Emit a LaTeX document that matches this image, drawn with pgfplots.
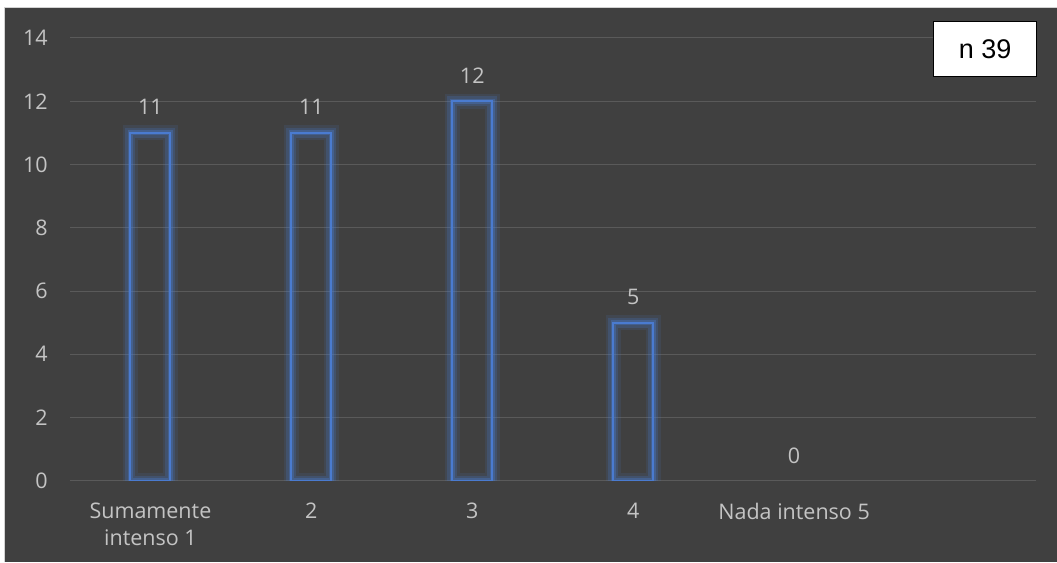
\documentclass[border=0pt]{standalone}
\usepackage{pgfplots}
\pgfplotsset{compat=1.18}
\usepackage{fontspec}
\setmainfont{Open Sans}
\newfontfamily\arialfont{Liberation Sans}
\definecolor{bg}{HTML}{404040}
\definecolor{txt}{HTML}{C4C4C4}
\definecolor{gridc}{HTML}{5A5A5A}
\definecolor{barblue}{HTML}{4A7BD0}
\begin{document}
\begin{tikzpicture}
\fill[white] (-70bp,-81bp) rectangle (987bp,481bp);
\fill[bg] (-65bp,-81bp) rectangle (987bp,473bp);
\draw[gray!35, line width=1bp] (-65bp,-81bp) -- (-65bp,473bp) -- (987bp,473bp);
\begin{axis}[
  scale only axis, width=966bp, height=443bp,
  xmin=-0.5, xmax=5.5, ymin=0, ymax=14,
  ytick={0,2,...,14}, xtick={0,...,4},
  xticklabels={{Sumamente\\intenso 1},2,3,4,Nada intenso 5},
  axis line style={draw=none}, major tick length=0pt,
  ymajorgrids, grid style={gridc, line width=1bp},
  tick label style={font=\fontsize{21.5bp}{27bp}\selectfont, text=txt},
  xticklabel style={align=center, anchor=north, inner sep=0pt, yshift=-22bp},
  yticklabel style={anchor=east, inner sep=0pt, xshift=-22bp},
  /pgf/number format/assume math mode=true,
  ybar, bar width=40bp, bar shift=0pt,
  every node near coord/.append style={font=\fontsize{21.5bp}{27bp}\selectfont, text=txt, anchor=south, inner sep=0pt, yshift=17bp},
]
\addplot[draw=barblue, draw opacity=0.12, line width=15bp, fill=none] coordinates {(0,11)(1,11)(2,12)(3,5)};
\addplot[draw=barblue, draw opacity=0.22, line width=10bp, fill=none] coordinates {(0,11)(1,11)(2,12)(3,5)};
\addplot[draw=barblue, draw opacity=0.35, line width=5bp, fill=none] coordinates {(0,11)(1,11)(2,12)(3,5)};
\addplot[draw=barblue, line width=2bp, fill=none, nodes near coords] coordinates {(0,11)(1,11)(2,12)(3,5)};
\addplot[draw=none, fill=none, nodes near coords] coordinates {(4,0)};
\end{axis}
\node[draw=black, line width=1.5bp, fill=white, minimum width=103bp, minimum height=55bp, inner sep=0pt, font=\arialfont\fontsize{27bp}{27bp}\selectfont] at (915.5bp,432bp) {n 39};
\end{tikzpicture}
\end{document}
